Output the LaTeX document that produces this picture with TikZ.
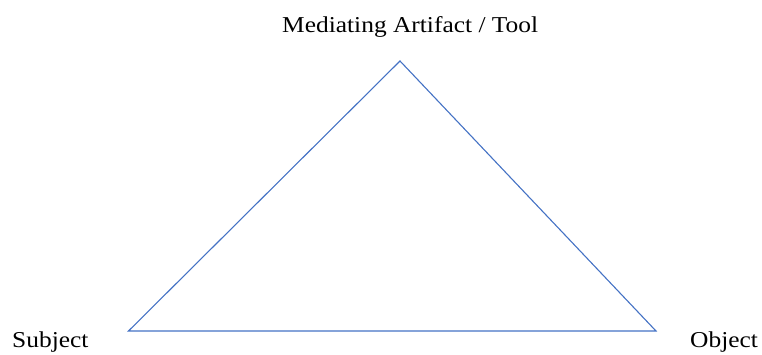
\documentclass[tikz,border=0pt]{standalone}
\usepackage{fontspec}
\setmainfont{Liberation Serif}[FakeStretch=1.12]
\definecolor{edgeblue}{HTML}{4472C4}
\begin{document}
\begin{tikzpicture}[x=1pt,y=-1pt,
  lbl/.style={inner sep=0pt,anchor=base west,font=\fontsize{22.7}{27}\selectfont},
  edge/.style={draw=edgeblue,line width=1.1pt,line join=miter}]
\useasboundingbox (0,0) rectangle (762,354);
\coordinate (top) at (400,61);
\coordinate (left) at (128.5,331);
\coordinate (right) at (656,331);
\draw[edge] (top) -- (left) -- (right) -- cycle;
\node[lbl] (tool) at (282,32) {Mediating Artifact / Tool};
\node[lbl] (subject) at (12,347) {Subject};
\node[lbl] (object) at (690,347) {Object};
\end{tikzpicture}
\end{document}
